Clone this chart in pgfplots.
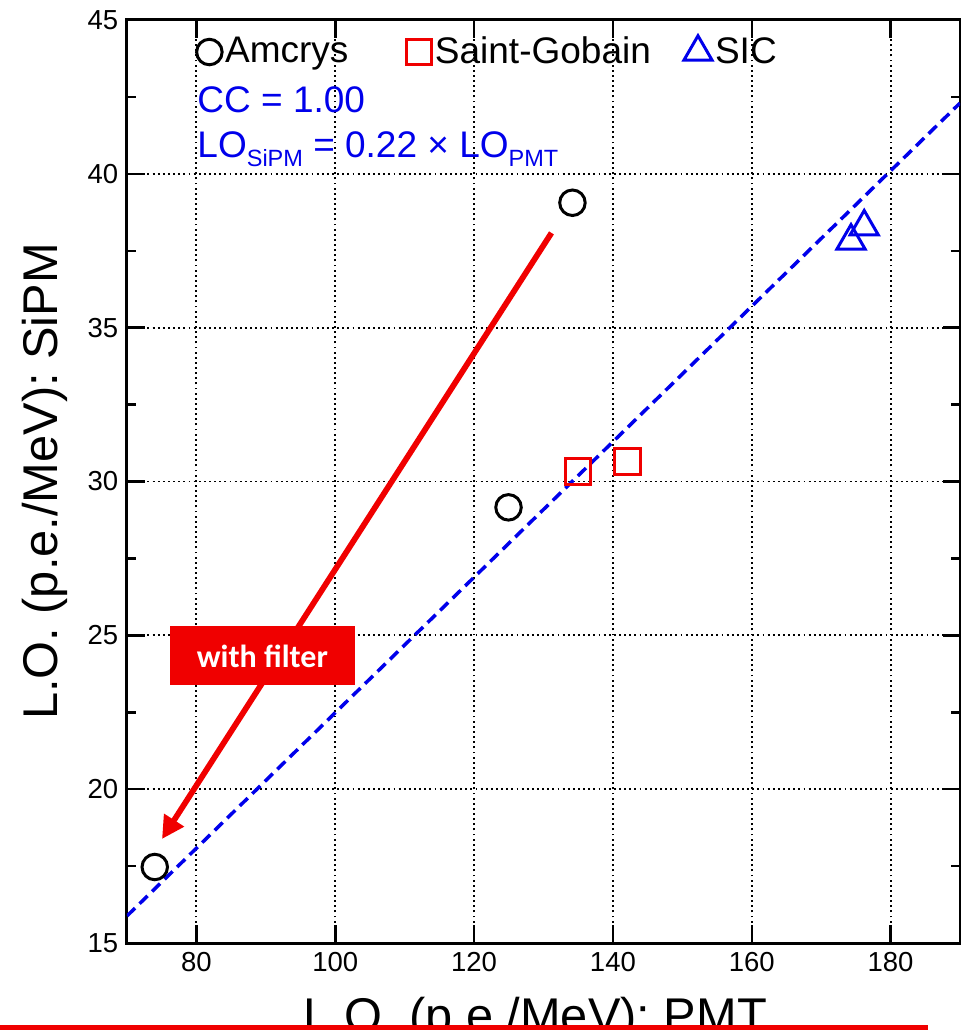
\documentclass[border=0pt]{standalone}
\usepackage{pgfplots}
\pgfplotsset{compat=1.18}
\usepackage{fontspec}
\setmainfont{Liberation Sans}
\newfontfamily\calib{Carlito}
\usetikzlibrary{arrows.meta}
\definecolor{myblue}{RGB}{0,0,235}
\definecolor{myred}{RGB}{240,0,0}
\newcommand\sub[1]{\raisebox{-3.4pt}{\fontsize{9.4}{10}\selectfont #1}}
\begin{document}
\begin{tikzpicture}
\begin{axis}[
  name=ax,
  scale only axis, width=333.2pt, height=369.2pt,
  xmin=70, xmax=190, ymin=15, ymax=45,
  xtick={80,100,...,180}, ytick={15,20,...,45},
  minor ytick={17.5,22.5,...,42.5},
  grid=major,
  major grid style={black, line width=0.75pt, dash pattern=on 0.75pt off 1.3pt},
  axis line style={line width=1.2pt},
  tick style={black, line width=1pt},
  tick align=inside,
  major tick length=7pt, minor tick length=3.5pt,
  /pgf/number format/assume math mode=true,
  tick label style={font=\fontsize{11}{13}\selectfont},
  xlabel={L.O. (p.e./MeV): PMT},
  ylabel={L.O. (p.e./MeV): SiPM},
  label style={font=\fontsize{19.5}{22}\selectfont},
  xlabel style={at={(axis description cs:0.49,-0.058)}, anchor=north, inner sep=0pt},
  ylabel style={at={(axis description cs:-0.0984,0.5)}, anchor=center, inner sep=0pt},
  legend columns=3,
  legend style={draw=none, fill=none, at={(axis description cs:0.083,0.9653)}, anchor=west,
    inner sep=0pt, font=\fontsize{14.8}{17}\selectfont,
    /tikz/column 2/.style={column sep=22pt}, /tikz/column 4/.style={column sep=12pt},
    nodes={inner sep=1.2pt}},
  legend image code/.code={\draw[mark repeat=2,mark phase=2,#1] plot coordinates {(0pt,0pt) (6pt,0pt) (12pt,0pt)};},
]
\addplot[myblue, line width=1.4pt, dash pattern=on 4.5pt off 2.5pt, forget plot] coordinates {(70,15.88) (190,42.3)};
\addplot[only marks, mark=o, mark size=5.1pt, black, line width=1.2pt] coordinates {(134.17,39.06) (124.96,29.16) (74.0,17.47)};
\addlegendentry{Amcrys}
\addplot[only marks, mark=square, mark size=5.1pt, myred, line width=1.2pt] coordinates {(135.0,30.32) (142.1,30.65)};
\addlegendentry{Saint-Gobain}
\addplot[only marks, mark=triangle, mark size=6.5pt, myblue, line width=1.2pt] coordinates {(174.3,37.82) (176.2,38.28)};
\addlegendentry{SIC}
\node[anchor=base west, inner sep=0pt, text=myblue, font=\fontsize{14.8}{17}\selectfont] at (axis description cs:0.084,0.9003) {CC = 1.00};
\node[anchor=base west, inner sep=0pt, text=myblue, font=\fontsize{14.8}{17}\selectfont] at (axis description cs:0.084,0.8505) {LO\sub{SiPM} = 0.22 × LO\sub{PMT}};
\draw[myred, line width=2.3pt, -{Triangle[length=9pt,width=9pt]}] (axis cs:131.15,38.08) -- (axis cs:75.04,18.38);
\node[fill=myred, minimum width=74pt, minimum height=23.6pt, inner sep=0pt, text=white, font=\calib\bfseries\fontsize{12.8}{14}\selectfont] at (axis cs:89.5,24.33) {with filter};
\end{axis}
\pgfresetboundingbox
\useasboundingbox ([shift={(-50.8pt,-34.8pt)}]ax.south west) rectangle ([shift={(0.4pt,8pt)}]ax.north east);
\fill[myred] ([shift={(-60pt,-32.6pt)}]ax.south west) rectangle ([shift={(320.4pt,-40pt)}]ax.south west);
\end{tikzpicture}
\end{document}
